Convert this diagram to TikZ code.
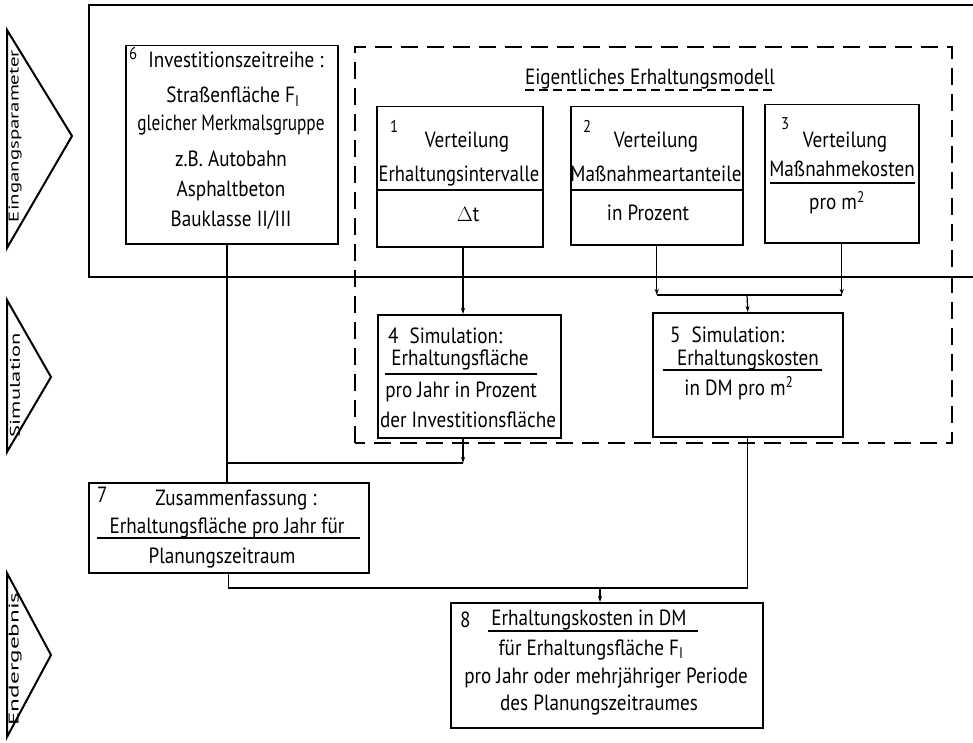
\documentclass[tikz,border=0pt]{standalone}
\usepackage{fontspec}
\usepackage{graphicx}
\setmainfont{PT Sans}[FakeStretch=0.87]
\newfontfamily\ebenenfont{PT Sans}
\usetikzlibrary{arrows.meta,positioning}

\tikzset{
  kasten/.style={draw, line width=1.5pt, inner sep=0pt, anchor=north west},
  zeile/.style={inner sep=0pt, anchor=base},
  nummer/.style={inner sep=0pt, anchor=base west, font=\fontsize{17}{19}\selectfont},
  ebenentext/.style={rotate=90, inner sep=0pt, font=\ebenenfont},
  leitung/.style={line width=1.2pt},
  pfeil/.style={leitung, -{Stealth[length=6pt,width=4pt]}},
  ebene/.style={line width=2pt},
  modell/.style={line width=1.6pt, dash pattern=on 17pt off 9pt},
}

\begin{document}
\begin{tikzpicture}[x=1pt,y=-1pt,font=\fontsize{22}{24}\selectfont]
			\useasboundingbox (0,0) rectangle (973,743);

			% Ebenen links
			\draw[ebene] (7,30) -- (72,136) -- (7,248) -- cycle;
			\draw[ebene] (7,300) -- (51,377) -- (7,452) -- cycle;
			\draw[ebene] (7,573) -- (51,655) -- (7,737) -- cycle;
			\node[ebenentext] (eingang) at (15,136) {\resizebox{172pt}{10pt}{Eingangsparameter}};
			\node[ebenentext] (simul) at (15,385) {\resizebox{104pt}{10pt}{Simulation}};
			\node[ebenentext] (ergebnis) at (15,659) {\resizebox{133pt}{10pt}{Endergebnis}};

			% Rahmen Eingangsparameter
			\draw[ebene] (973,5) -- (89,5) -- (89,277) -- (973,277);

			% Eigentliches Erhaltungsmodell
			\draw[modell] (355,443) -- (355,47) -- (952,47) -- (952,443) -- cycle;
			\node[zeile] (titel) at (650,85) {Eigentliches Erhaltungsmodell};
			\draw[leitung, dash pattern=on 9pt off 5pt] ([yshift=-5pt]titel.base west) -- ([yshift=-5pt]titel.base east);

			% Kaesten
			\node[kasten, minimum width=212pt, minimum height=198pt] (b6) at (125,45) {};
			\node[kasten, minimum width=166pt, minimum height=140pt] (b1) at (376,106) {};
			\node[kasten, minimum width=172pt, minimum height=138pt] (b2) at (570,106) {};
			\node[kasten, minimum width=154pt, minimum height=138pt] (b3) at (764,104) {};
			\node[kasten, minimum width=183pt, minimum height=123pt] (b4) at (377,314) {};
			\node[kasten, minimum width=190pt, minimum height=124pt] (b5) at (652,312) {};
			\node[kasten, minimum width=280pt, minimum height=90pt] (b7) at (88,482) {};
			\node[kasten, minimum width=312pt, minimum height=125pt] (b8) at (450,602) {};

			% Kasten 6
			\node[nummer] (n6) at (129,60) {6};
			\node[zeile] (t61) at (236,68) {Investitionszeitreihe :};
			\node[zeile] (t62) at (233,103) {Straßenfläche F\textsubscript{I}};
			\node[zeile] (t63) at (231,131) {\scalebox{0.9}[1]{gleicher Merkmalsgruppe}};
			\node[zeile] (t64) at (231,167) {z.B. Autobahn};
			\node[zeile] (t65) at (231,197) {Asphaltbeton};
			\node[zeile] (t66) at (231,226) {Bauklasse II/III};

			% Kasten 1
			\node[nummer] (n1) at (390,133) {1};
			\node[zeile] (t11) at (467,148) {Verteilung};
			\node[zeile] (t12) at (459,182) {\scalebox{0.97}[1]{Erhaltungsintervalle}};
			\draw[leitung] (376,190) -- (542,190);
			\node[zeile] (t13) at (468,222) {$\Delta$t};

			% Kasten 2
			\node[nummer] (n2) at (583,133) {2};
			\node[zeile] (t21) at (656,148) {Verteilung};
			\node[zeile] (t22) at (656,182) {Maßnahmeartanteile};
			\draw[leitung] (570,190) -- (742,190);
			\node[zeile] (t23) at (648,220) {in Prozent};

			% Kasten 3
			\node[nummer] (n3) at (781,130) {3};
			\node[zeile] (t31) at (845,148) {Verteilung};
			\node[zeile] (t32) at (842,177) {Maßnahmekosten};
			\draw[leitung] (770,183) -- (915,183);
			\node[zeile] (t33) at (837,210) {pro m\textsuperscript{2}};

			% Kasten 4
			\node[zeile, anchor=base west] (t41) at (388,343) {4\enspace Simulation:};
			\node[zeile] (t42) at (460,365) {Erhaltungsfläche};
			\draw[leitung] (385,374) -- (537,374);
			\node[zeile] (t43) at (461,397) {pro Jahr in Prozent};
			\node[zeile] (t44) at (468,427) {der Investitionsfläche};

			% Kasten 5
			\node[zeile, anchor=base west] (t51) at (670,342) {5\enspace Simulation:};
			\node[zeile] (t52) at (748,365) {Erhaltungskosten};
			\draw[leitung] (663,370) -- (822,370);
			\node[zeile] (t53) at (739,395) {in DM pro m\textsuperscript{2}};

			% Kasten 7
			\node[zeile, anchor=base west] (n7) at (97,502) {7};
			\node[zeile] (t71) at (236,505) {Zusammenfassung :};
			\node[zeile] (t72) at (227,533) {Erhaltungsfläche pro Jahr für};
			\draw[leitung] (97,538) -- (360,538);
			\node[zeile] (t73) at (222,563) {Planungszeitraum};

			% Kasten 8
			\node[zeile, anchor=base west] (n8) at (460,627) {8};
			\node[zeile] (t81) at (589,625) {Erhaltungskosten in DM};
			\draw[leitung] (488,631) -- (698,631);
			\node[zeile] (t82) at (591,655) {für Erhaltungsfläche F\textsubscript{I}};
			\node[zeile] (t83) at (606,683) {pro Jahr oder mehrjähriger Periode};
			\node[zeile] (t84) at (599,710) {des Planungszeitraumes};

			% Verbindungen
			\coordinate (sammel7) at (227,463);
			\coordinate (a4) at (463,463);
			\coordinate (m5) at (747,295);
			\coordinate (m8) at (600,588);

			\draw[pfeil] (b1.south -| a4) -- (b4.north -| a4);
			\draw[pfeil] (b4.south -| a4) -- (a4);
			\draw[leitung] (a4) -- (sammel7);
			\draw[leitung] (b6.south -| sammel7) -- (b7.north -| sammel7);

			\draw[pfeil] (b2.south) -- (b2.south |- m5);
			\draw[pfeil] (b3.south) -- (b3.south |- m5);
			\draw[leitung] (b2.south |- m5) -- (b3.south |- m5);
			\draw[pfeil] (m5) -- (b5.north);

			\draw[leitung] (b5.south) -- (b5.south |- m8) -- (b7.south |- m8) -- (b7.south);
			\draw[pfeil] (m8) -- (b8.north -| m8);

		\end{tikzpicture}
\end{document}
